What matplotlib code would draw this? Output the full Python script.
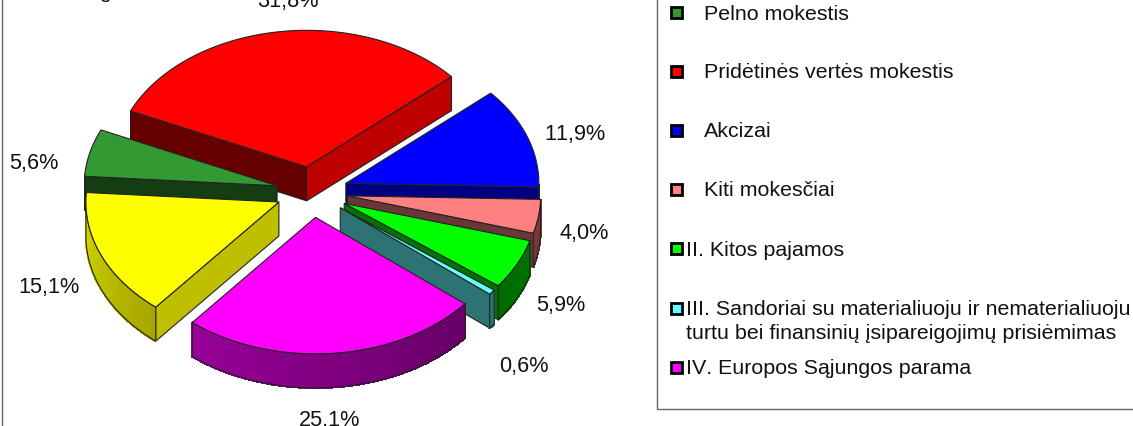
import numpy as np
import matplotlib
matplotlib.use('Agg')
import matplotlib.pyplot as plt
from matplotlib.patches import Polygon, Rectangle

plt.rcParams['font.family'] = ['Liberation Sans', 'DejaVu Sans']
plt.rcParams['text.kerning_factor'] = 6

# Data, clockwise from the green slice
names = ['Pelno mokestis', 'Pridėtinės vertės mokestis', 'Akcizai', 'Kiti mokesčiai',
         'II. Kitos pajamos',
         'III. Sandoriai su materialiuoju ir nematerialiuoju\nturtu bei finansinių įsipareigojimų prisiėmimas',
         'IV. Europos Sąjungos parama', '']
values = np.array([5.6, 31.8, 11.9, 4.0, 5.9, 0.6, 25.1, 15.1])
labels = ['5,6%', '31,8%', '11,9%', '4,0%', '5,9%', '0,6%', '25,1%', '15,1%']
colors = ['#339933', '#FF0000', '#0000FF', '#FF8080', '#00FF00', '#66FFFF', '#FF00FF', '#FFFF00']

# side shading: start edge, end edge, rim at start, rim at end
start_shade = [0.40, 0.40, 0.50, 0.45, 0.45, 0.45, 0.45, 0.75]
end_shade = [0.40, 0.75, 0.50, 0.42, 0.45, 0.45, 0.45, 0.45]
rim_a = [0.40, 0.75, 0.50, 0.45, 0.45, 0.45, 0.40, 0.65]
rim_b = [0.40, 0.75, 0.50, 0.45, 0.42, 0.45, 0.60, 0.85]

# pie geometry in pixels
cx, cy = 312, 193
rx, ry = 193, 136.5
explode = 36
depth = 34
start_angle = 274

label_x = [34, 288, 575, 584, 561, 524, 330, 49]
label_y = [164, 1, 135, 233.5, 305.5, 367, 421, 288]
legend_y = [13.5, 72, 131.5, 190.5, 249.5, 309, 368]
legend_text_x = [704, 704, 704, 704, 686, 686, 686]


def shade(col, f):
    return tuple(c * f for c in matplotlib.colors.to_rgb(col))


def rim(a, ox, oy):
    r = np.radians(a)
    return ox + rx * np.sin(r), oy - ry * np.cos(r)


fig = plt.figure(figsize=(11.33, 4.27), dpi=100)
ax = fig.add_axes([0, 0, 1, 1])
ax.set_xlim(0, 1133)
ax.set_ylim(427, 0)
ax.axis('off')

spans = values / values.sum() * 360
edges = start_angle + np.concatenate([[0], np.cumsum(spans)])
edge_col = '#222222'
lw = 0.8

# back to front
order = [1, 2, 0, 3, 4, 5, 7, 6]
for z, i in enumerate(order):
    a0, a1 = edges[i], edges[i + 1]
    mid = np.radians((a0 + a1) / 2)
    ox = cx + explode * np.sin(mid)
    oy = cy - explode * ry / rx * np.cos(mid)
    col = colors[i]
    zo = 2 + z

    # flat sides
    for a, f, vis in [(a0, start_shade[i], np.sin(np.radians(a0)) < 0),
                      (a1, end_shade[i], np.sin(np.radians(a1)) > 0)]:
        if vis:
            x, y = rim(a, ox, oy)
            ax.add_patch(Polygon([(ox, oy), (x, y), (x, y + depth), (ox, oy + depth)],
                                 fc=shade(col, f), ec=edge_col, lw=lw, zorder=zo))

    # outer rim, only the front half shows
    a = np.linspace(a0, a1, 80)
    front = (np.mod(a, 360) > 90) & (np.mod(a, 360) < 270)
    if front.any():
        a = a[front]
        x, y = rim(a, ox, oy)
        for k in range(len(a) - 1):
            t = (a[k] - a0) / (a1 - a0)
            f = rim_a[i] + (rim_b[i] - rim_a[i]) * t
            c = shade(col, f)
            ax.add_patch(Polygon([(x[k], y[k]), (x[k + 1], y[k + 1]),
                                  (x[k + 1], y[k + 1] + depth), (x[k], y[k] + depth)],
                                 fc=c, ec=c, lw=1, antialiased=False, zorder=zo))
        ax.add_patch(Polygon(list(zip(x, y)) + list(zip(x[::-1], y[::-1] + depth)),
                             fc='none', ec=edge_col, lw=lw, zorder=zo))

    # top face
    a = np.linspace(a0, a1, 80)
    x, y = rim(a, ox, oy)
    ax.add_patch(Polygon([(ox, oy)] + list(zip(x, y)), fc=col, ec=edge_col, lw=lw, zorder=zo))

for i in range(len(labels)):
    ax.text(label_x[i], label_y[i], labels[i], fontsize=15.6, ha='center', va='center',
            color='#111111', zorder=20)

# clipped title, only the tail of it is left in the crop
ax.text(105, -7, 'g', fontsize=15.4, ha='center', va='center', color='#111111', zorder=20)

# borders
ax.plot([2, 2], [0, 427], color='#666666', lw=1, zorder=1)
ax.plot([656.5, 656.5, 1133], [0, 409.5, 409.5], color='#666666', lw=1, zorder=1)

# legend
for i in range(7):
    ax.add_patch(Rectangle((670.5, legend_y[i] - 5.5), 11, 11, fc=colors[i], ec='black', lw=2, zorder=20))
    name = names[i]
    if '\n' in name:
        l1, l2 = name.split('\n')
        ax.text(legend_text_x[i], legend_y[i] + 0.5, l1, fontsize=15.4, va='center', color='#111111')
        ax.text(legend_text_x[i], legend_y[i] + 25, l2, fontsize=15.4, va='center', color='#111111')
    else:
        ax.text(legend_text_x[i], legend_y[i] + 0.5, name, fontsize=15.4, va='center', color='#111111')

fig.savefig('out.png', dpi=100)
